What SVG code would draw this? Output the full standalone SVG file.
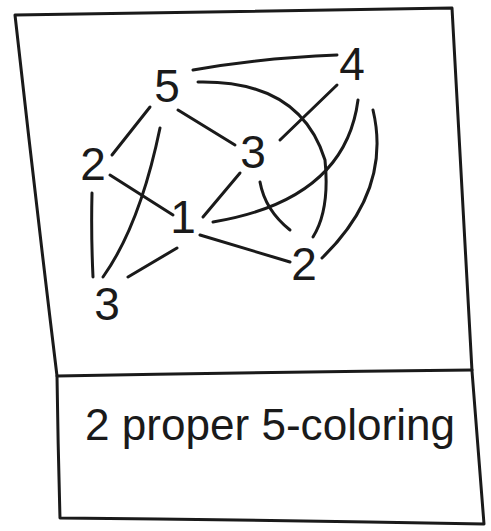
<svg xmlns="http://www.w3.org/2000/svg" width="491" height="531" viewBox="0 0 491 531">
<style>
.frame{fill:none;stroke:#1a1a1a;stroke-width:3;stroke-linecap:round;stroke-linejoin:round}
.edge{fill:none;stroke:#1a1a1a;stroke-width:3;stroke-linecap:round}
.num{font-family:"Liberation Sans",Arial,sans-serif;font-size:46px;fill:#1a1a1a;text-anchor:middle}
.label{font-family:"Liberation Sans",Arial,sans-serif;font-size:44px;fill:#1a1a1a}
</style>
<rect width="491" height="531" fill="#ffffff"/>
<g id="frame">
<path class="frame" d="M15,15 Q230,12 452,8 Q462,190 472,371 Q478,447 484,524 Q270,520 60,518 Q58,447 57,376 Q35,195 15,15 Z"/>
<path class="frame" d="M57,376 Q265,372 472,370"/>
</g>
<g id="connectors">
<path class="edge" d="M193,70 Q260,58 337,55"/>
<path class="edge" d="M198,82 Q300,80 325,160 Q330,210 313,237"/>
<path class="edge" d="M337,85 L280,140"/>
<path class="edge" d="M358,100 Q345,200 213,222"/>
<path class="edge" d="M373,110 Q392,190 322,258"/>
<path class="edge" d="M150,107 L112,155"/>
<path class="edge" d="M178,110 L235,145"/>
<path class="edge" d="M160,128 Q140,225 103,277"/>
<path class="edge" d="M110,175 L173,215"/>
<path class="edge" d="M92,193 Q91,235 93,277"/>
<path class="edge" d="M240,173 L203,217"/>
<path class="edge" d="M260,182 Q265,210 290,230"/>
<path class="edge" d="M200,235 L290,262"/>
<path class="edge" d="M177,248 L128,277"/>
</g>
<g id="n5"><text class="num" x="167" y="102">5</text></g>
<g id="n4"><text class="num" x="352" y="80">4</text></g>
<g id="n2a"><text class="num" x="93" y="180">2</text></g>
<g id="n3a"><text class="num" x="253" y="168">3</text></g>
<g id="n1"><text class="num" x="183" y="233">1</text></g>
<g id="n2b"><text class="num" x="304" y="280">2</text></g>
<g id="n3b"><text class="num" x="107" y="320">3</text></g>
<g id="caption"><text class="label" x="85" y="440" textLength="370" lengthAdjust="spacingAndGlyphs">2 proper 5-coloring</text></g>
</svg>
